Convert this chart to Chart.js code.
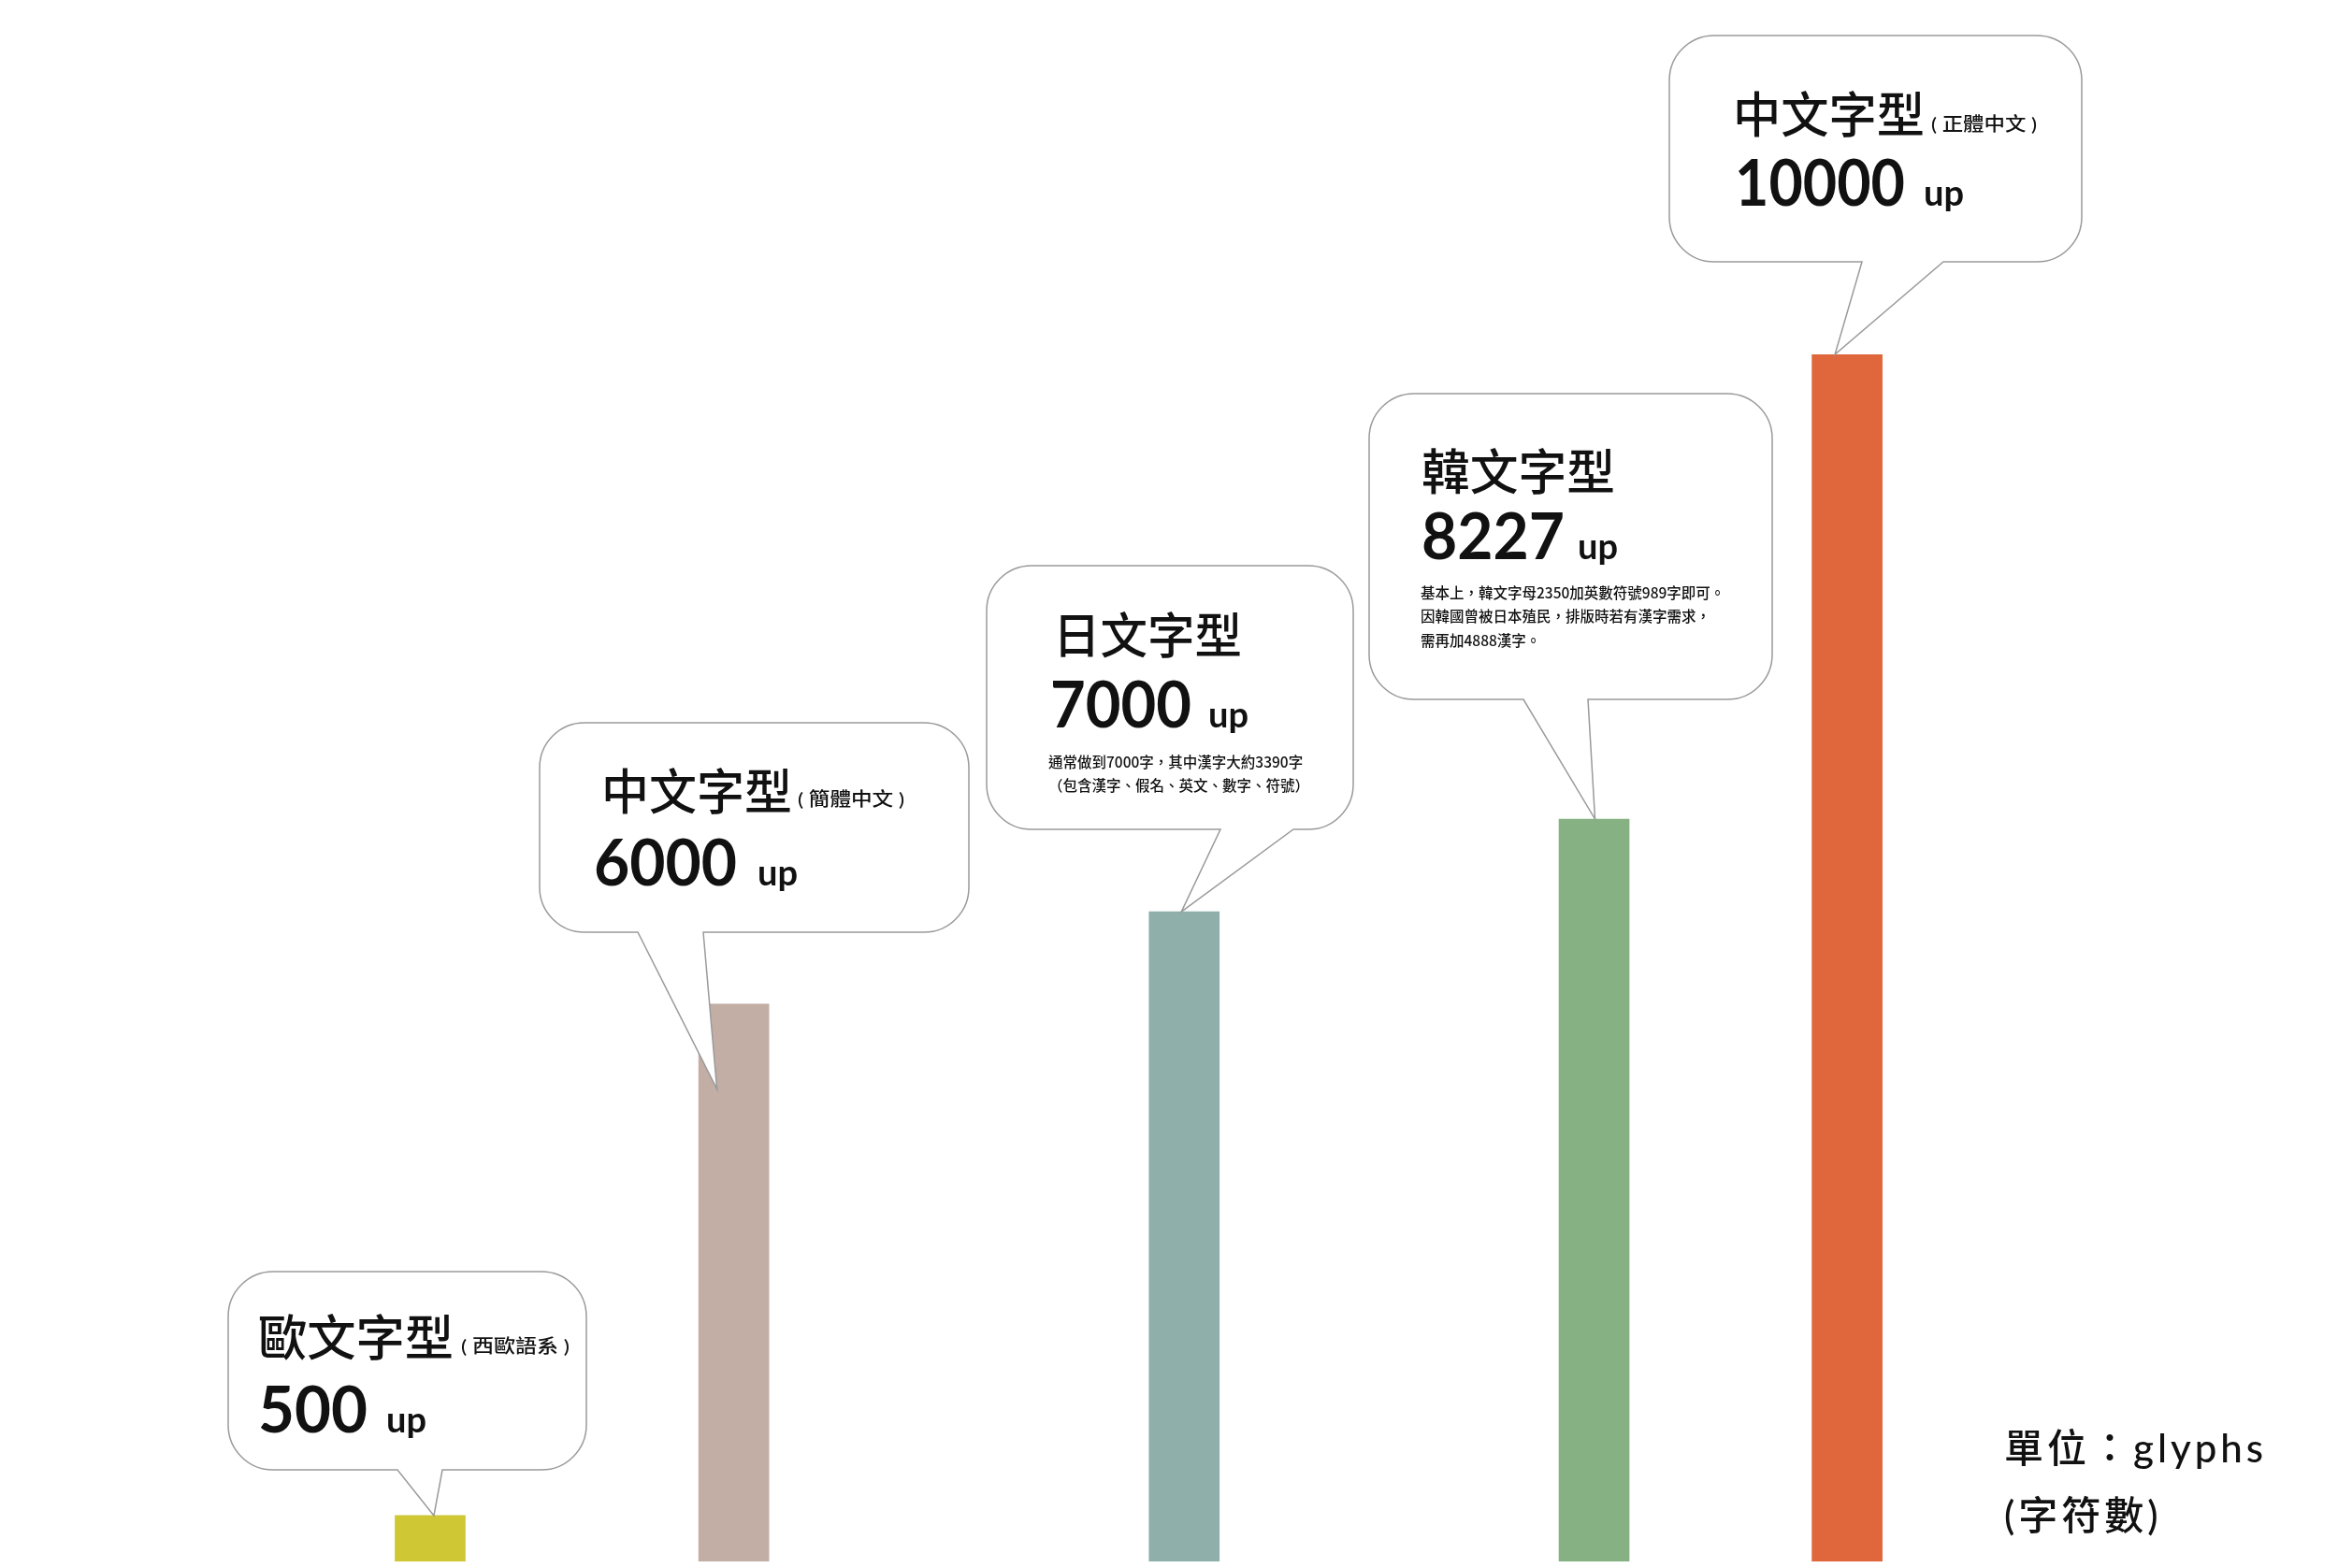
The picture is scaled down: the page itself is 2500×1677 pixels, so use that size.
<!DOCTYPE html>
<html>
<head>
<meta charset="utf-8">
<title>字型字符數</title>
<script src="https://cdn.jsdelivr.net/npm/chart.js@4.4.1/dist/chart.umd.min.js"></script>
<style>
  html, body { margin: 0; padding: 0; background: #fff; }
  #wrap { width: 2500px; height: 1677px; }
</style>
</head>
<body>
<div id="wrap"><canvas id="glyphChart" width="2500" height="1677"></canvas></div>
<script>
// ---- data ----
const categories = ["歐文字型", "中文字型", "日文字型", "韓文字型", "中文字型"];
const subLabels = ["( 西歐語系 )", "( 簡體中文 )", "", "", "( 正體中文 )"];
const glyphCounts = ["500", "6000", "7000", "8227", "10000"];
// bar heights as drawn in the picture (tallest bar = 10000)
const barValues = [380, 4617, 5383, 6150, 10000];
const barColors = ["#cfc733", "#c3aea6", "#8fb0aa", "#86b283", "#e0663b"];
const notes = [
  [],
  [],
  ["通常做到7000字，其中漢字大約3390字", "（包含漢字、假名、英文、數字、符號）"],
  ["基本上，韓文字母2350加英數符號989字即可。", "因韓國曾被日本殖民，排版時若有漢字需求，", "需再加4888漢字。"],
  [],
];
const unitLines = ["單位：glyphs", "(字符數)"];

// ---- layout ----
// horizontal slot of each bar on the x axis (bars are not evenly spaced)
const barSlots = [0, 6, 14.9, 23, 28];

// speech bubbles: box [left, top, right, bottom], tail base x's, tip offset from bar top
const bubbles = [
  { box: [244, 1360, 627, 1572], tail: [425, 473], tip: [4, 0],
    title: [276, 1430, 209], sub: [493, 1441, 116], count: [276, 1532, 117], up: [413, 1532] },
  { box: [577, 773, 1036, 997], tail: [682, 752], tip: [-18, 91],
    title: [643, 846, 204], sub: [853, 856, 114], count: [635, 947, 153], up: [810, 947] },
  { box: [1055, 605, 1447, 887], tail: [1305, 1383], tip: [-3, 0],
    title: [1126, 679, 202], count: [1123, 778, 151], up: [1292, 778], notes: [1121, 815, 25] },
  { box: [1464, 421, 1895, 748], tail: [1629, 1698], tip: [1, 0],
    title: [1520, 504, 207], count: [1520, 598, 153], up: [1687, 598], notes: [1519, 634, 25.5] },
  { box: [1785, 38, 2226, 280], tail: [1991, 2078], tip: [-13, 0],
    title: [1853, 122, 205], sub: [2065, 134, 113], count: [1855, 220, 182], up: [2057, 220] },
];

const CJK = '"Noto Sans CJK TC", "Noto Sans CJK JP", sans-serif';
const LATIN = 'Lato, "Noto Sans CJK TC", sans-serif';

function fitText(ctx, text, x, y, targetW) {
  const w = ctx.measureText(text).width;
  ctx.save();
  ctx.translate(x, y);
  if (targetW) ctx.scale(targetW / w, 1);
  ctx.fillText(text, 0, 0);
  ctx.restore();
}

function bubblePath(ctx, b, tipX, tipY) {
  const [l, t, r, btm] = b.box;
  const rad = 48;
  ctx.beginPath();
  ctx.moveTo(l + rad, t);
  ctx.lineTo(r - rad, t);
  ctx.arcTo(r, t, r, t + rad, rad);
  ctx.lineTo(r, btm - rad);
  ctx.arcTo(r, btm, r - rad, btm, rad);
  ctx.lineTo(b.tail[1], btm);
  ctx.lineTo(tipX, tipY);
  ctx.lineTo(b.tail[0], btm);
  ctx.lineTo(l + rad, btm);
  ctx.arcTo(l, btm, l, btm - rad, rad);
  ctx.lineTo(l, t + rad);
  ctx.arcTo(l, t, l + rad, t, rad);
  ctx.closePath();
}

const bubblePlugin = {
  id: "bubbles",
  afterDatasetsDraw(chart) {
    const ctx = chart.ctx;
    const bars = chart.getDatasetMeta(0).data;
    ctx.save();
    bubbles.forEach((b, i) => {
      const bar = bars[i];
      bubblePath(ctx, b, bar.x + b.tip[0], bar.y + b.tip[1]);
      ctx.fillStyle = "#ffffff";
      ctx.fill();
      ctx.strokeStyle = "#9a9a9a";
      ctx.lineWidth = 1.5;
      ctx.stroke();

      ctx.fillStyle = "#111111";
      ctx.textAlign = "left";

      ctx.textBaseline = "middle";
      ctx.font = "500 52px " + CJK;
      fitText(ctx, categories[i], b.title[0], b.title[1], b.title[2]);

      if (b.sub && subLabels[i]) {
        ctx.font = "500 20px " + LATIN;
        fitText(ctx, subLabels[i], b.sub[0], b.sub[1], b.sub[2]);
      }

      ctx.textBaseline = "alphabetic";
      ctx.font = "bold 69px " + LATIN;
      fitText(ctx, glyphCounts[i], b.count[0], b.count[1], b.count[2]);
      ctx.font = "bold 38px " + LATIN;
      ctx.fillText("up", b.up[0], b.up[1]);

      if (b.notes) {
        ctx.textBaseline = "middle";
        ctx.font = "500 15.5px " + CJK;
        notes[i].forEach((line, k) => {
          ctx.fillText(line, b.notes[0], b.notes[1] + k * b.notes[2]);
        });
      }
    });

    // unit label
    ctx.textBaseline = "middle";
    ctx.font = "500 42px " + LATIN;
    ctx.letterSpacing = "4px";
    ctx.fillText(unitLines[0], 2143, 1550);
    ctx.fillText(unitLines[1], 2143, 1622);
    ctx.restore();
  },
};

new Chart(document.getElementById("glyphChart"), {
  type: "bar",
  data: {
    datasets: [
      {
        data: barSlots.map((s, i) => ({ x: s, y: barValues[i] })),
        backgroundColor: barColors,
        borderWidth: 0,
        barThickness: 75,
      },
    ],
  },
  options: {
    responsive: false,
    devicePixelRatio: 1,
    animation: false,
    layout: { padding: { top: 379, bottom: 7, left: 0, right: 0 } },
    plugins: { legend: { display: false }, tooltip: { enabled: false } },
    scales: {
      x: { type: "linear", offset: false, min: -8.5, max: 37.7, display: false },
      y: { min: 0, max: 10000, display: false },
    },
  },
  plugins: [bubblePlugin],
});
</script>
</body>
</html>
